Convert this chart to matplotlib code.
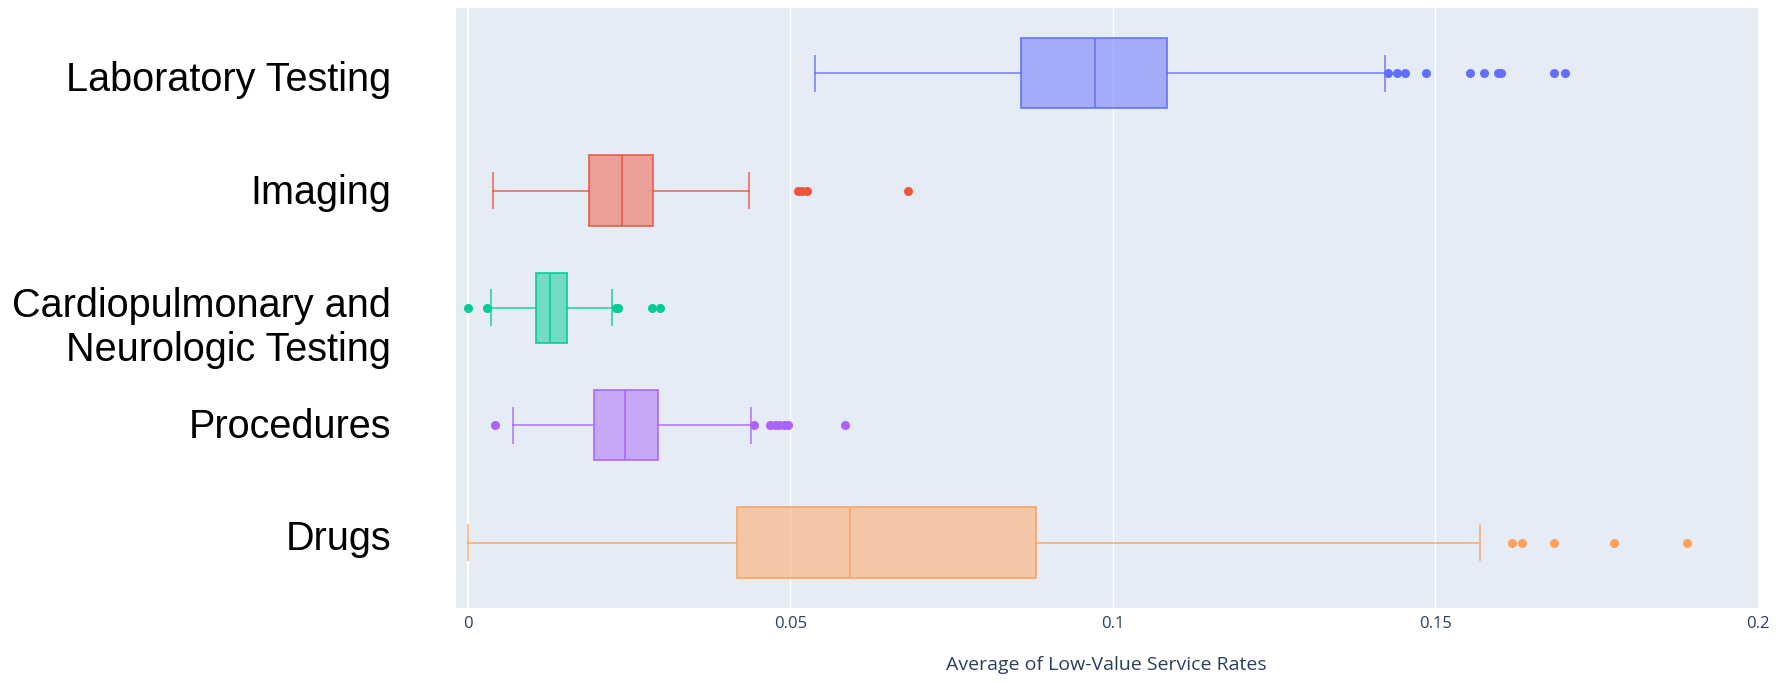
import matplotlib
matplotlib.use("Agg")
import matplotlib.pyplot as plt
from matplotlib.transforms import ScaledTranslation

# categories, top to bottom
categories = ["Laboratory Testing", "Imaging", "Cardiopulmonary and\nNeurologic Testing",
              "Procedures", "Drugs"]
colors = ["#636EFA", "#EF553B", "#00CC96", "#AB63FA", "#FFA15A"]

# box statistics
whislo = [0.0538, 0.0038, 0.0035, 0.0070, 0.0]
q1 = [0.0857, 0.0187, 0.0105, 0.0196, 0.0417]
med = [0.0972, 0.0239, 0.0127, 0.0243, 0.0593]
q3 = [0.1084, 0.0287, 0.0153, 0.0294, 0.0881]
whishi = [0.1422, 0.0435, 0.0223, 0.0439, 0.1569]

# outliers
fliers_lab = [0.1427, 0.1440, 0.1453, 0.1486, 0.1554, 0.1575, 0.1597, 0.1602, 0.1685, 0.1701]
fliers_img = [0.0511, 0.0518, 0.0525, 0.0682]
fliers_cardio = [0.0, 0.0030, 0.0229, 0.0232, 0.0285, 0.0298]
fliers_proc = [0.0042, 0.0444, 0.0468, 0.0476, 0.0483, 0.0490, 0.0496, 0.0585]
fliers_drugs = [0.1619, 0.1634, 0.1685, 0.1778, 0.1890]
fliers = [fliers_lab, fliers_img, fliers_cardio, fliers_proc, fliers_drugs]

xticks = [0, 0.05, 0.1, 0.15, 0.2]
xticklabels = ["0", "0.05", "0.1", "0.15", "0.2"]

# the row labels sit a little off the box centres in the original (pixels, + is down)
label_shift = [3, -2, 13, -2, -8]

fig = plt.figure(figsize=(17.86, 6.83), dpi=100)
ax = fig.add_axes([0.2551, 0.1102, 0.7290, 0.8781])
ax.set_facecolor("#E5ECF6")

# grid and zero line under the boxes
for x in xticks[1:]:
    ax.axvline(x, color="white", lw=0.9, zorder=0)
ax.axvline(0, color="white", lw=1.6, zorder=0)

for i in range(len(categories)):
    stats = [dict(med=med[i], q1=q1[i], q3=q3[i], whislo=whislo[i], whishi=whishi[i],
                  fliers=fliers[i])]
    c = colors[i]
    ax.bxp(stats, positions=[i], orientation="horizontal", widths=0.6, capwidths=0.3,
           patch_artist=True, showfliers=True,
           boxprops=dict(facecolor=c + "80", edgecolor=c + "D0", lw=1.4),
           medianprops=dict(color=c, lw=1.4, alpha=0.8),
           whiskerprops=dict(color=c, lw=1.4, alpha=0.7),
           capprops=dict(color=c, lw=1.4, alpha=0.7),
           flierprops=dict(marker="o", markerfacecolor=c, markeredgecolor="none",
                           markersize=6.5))

ax.set_xlim(-0.00193, 0.2)
ax.set_ylim(4.556, -0.556)
ax.set_yticks(range(len(categories)))
ax.set_yticklabels(categories, fontsize=28.5, family="Liberation Sans", color="black",
                   ha="right", multialignment="right")
ax.tick_params(axis="y", length=0, pad=46.5)
for lab, dy in zip(ax.get_yticklabels(), label_shift):
    lab.set_transform(lab.get_transform() + ScaledTranslation(0, -dy / 100, fig.dpi_scale_trans))
ax.set_xticks(xticks)
ax.set_xticklabels(xticklabels, fontsize=12, family="Open Sans", color="#2a3f5f")
ax.tick_params(axis="x", length=0, pad=6)
ax.set_xlabel("Average of Low-Value Service Rates", fontsize=14, family="Open Sans",
              color="#2a3f5f")
ax.xaxis.set_label_coords(0.5, -0.0956)
ax.xaxis.label.set_va("center")
for s in ax.spines.values():
    s.set_visible(False)

fig.savefig("out.png", dpi=100)
